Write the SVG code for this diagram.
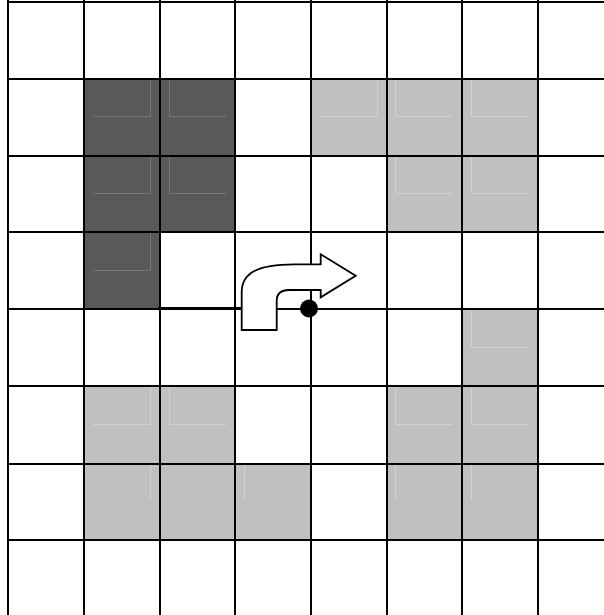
<svg xmlns="http://www.w3.org/2000/svg" width="604" height="615" viewBox="0 0 604 615">
<style>
.dk{fill:#595959}
.lt{fill:#c0c0c0}
.fd{stroke:#777;stroke-width:1;fill:none}
.fl{stroke:#d2d2d2;stroke-width:1;fill:none}
.grid line{stroke:#000;stroke-width:2}
</style>
<rect x="0" y="0" width="604" height="615" fill="#fff"/>
<g id="cells">
<rect class="dk" x="84" y="79" width="151" height="153"/>
<rect class="dk" x="84" y="232" width="76" height="77"/>
<rect class="lt" x="311" y="79" width="227" height="77"/>
<rect class="lt" x="387" y="156" width="151" height="76"/>
<rect class="lt" x="462" y="309" width="76" height="77"/>
<rect class="lt" x="84" y="386" width="151" height="78"/>
<rect class="lt" x="84" y="464" width="227" height="76"/>
<rect class="lt" x="387" y="386" width="151" height="154"/>
</g>
<g id="faint">
<path class="fd" d="M150.5,80V116.5H93M169.5,80V116.5H226M150.5,157V193.5H93M169.5,157V193.5H226M150.5,233V270.5H93"/>
<path class="fl" d="M377.5,80V116.5H320M395.5,80V116.5H452M471.5,80V116.5H528M395.5,157V193.5H453M471.5,157V193.5H528M471.5,310V347.5H528M395.5,387V424.5H452M471.5,387V424.5H528M395.5,465V500M471.5,465V500M150.5,387V424.5H93M169.5,387V424.5H226M150.5,465V500M244.5,465V500"/>
</g>
<g id="grid" class="grid">
<line x1="8" y1="0" x2="8" y2="615"/>
<line x1="84" y1="0" x2="84" y2="615"/>
<line x1="160" y1="0" x2="160" y2="615"/>
<line x1="235" y1="0" x2="235" y2="615"/>
<line x1="311" y1="0" x2="311" y2="615"/>
<line x1="387" y1="0" x2="387" y2="615"/>
<line x1="462" y1="0" x2="462" y2="615"/>
<line x1="538" y1="0" x2="538" y2="615"/>
<line x1="7" y1="2" x2="604" y2="2"/>
<line x1="7" y1="79" x2="604" y2="79"/>
<line x1="7" y1="156" x2="604" y2="156"/>
<line x1="7" y1="232" x2="604" y2="232"/>
<line x1="7" y1="309" x2="604" y2="309"/>
<line x1="7" y1="386" x2="604" y2="386"/>
<line x1="7" y1="464" x2="604" y2="464"/>
<line x1="7" y1="540" x2="604" y2="540"/>
</g>
<g id="connectors">
<line x1="158" y1="308" x2="243" y2="308" stroke="#000" stroke-width="2.2"/>
</g>
<g id="turn-arrow">
<path d="M241.7,330 L241.7,292 C241.7,273 258,264.3 294,264.3 L320.7,264.3 L320.7,254.3 L355.7,275.7 L320.7,297.3 L320.7,290 L289,290 C281,290 276.7,294 276.7,301 L276.7,330 Z" fill="#fff" stroke="#000" stroke-width="1.8" stroke-linejoin="miter"/>
</g>
<g id="dot">
<circle cx="309" cy="308.5" r="9" fill="#000"/>
</g>
</svg>
